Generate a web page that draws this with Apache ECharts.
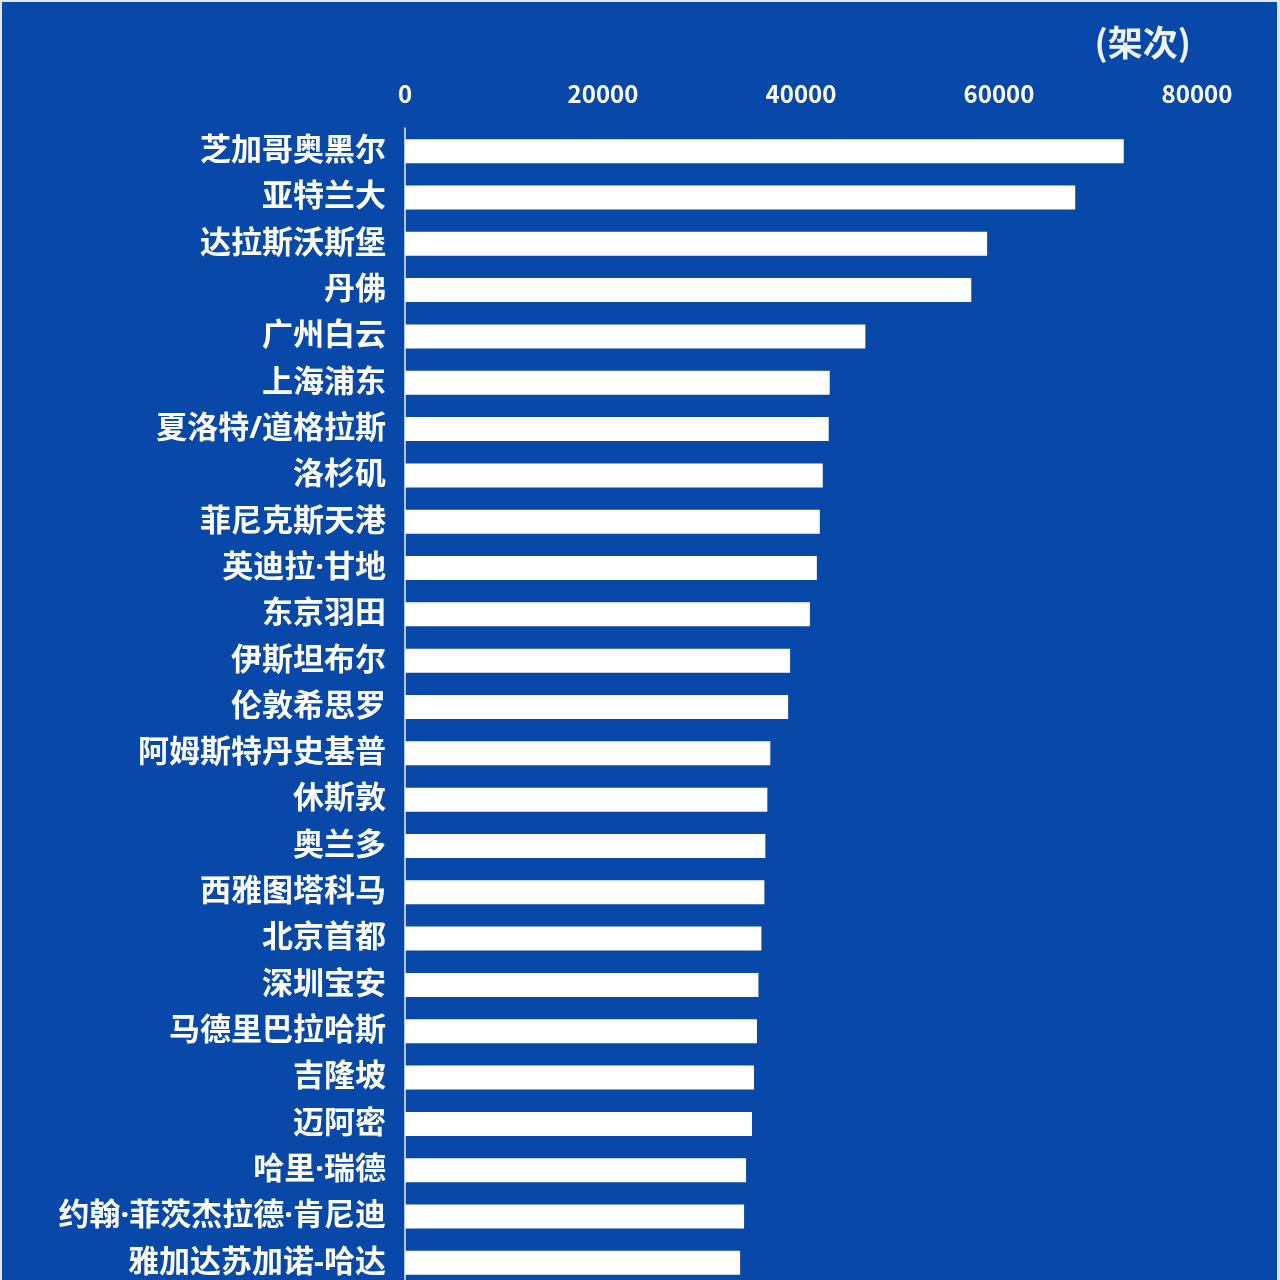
<!DOCTYPE html>
<html>
<head>
<meta charset="utf-8">
<title>机场起降架次</title>
<script src="https://cdn.jsdelivr.net/npm/echarts@6/dist/echarts.min.js"></script>
<style>
  html, body { margin: 0; padding: 0; overflow: hidden; width: 1280px; height: 1280px; }
  #chart { position: absolute; left: 0; top: 0; width: 1280px; height: 1300px; }
  #frame { position: absolute; left: 0; top: 0; width: 1280px; height: 1300px; box-sizing: border-box;
    border-top: 2px solid #dfe9f5; border-left: 2px solid #dfe9f5; border-right: 3px solid #dfe9f5;
    pointer-events: none; }
</style>
</head>
<body>
<div id="chart"></div>
<div id="frame"></div>
<script>
const airports = [
  '芝加哥奥黑尔', '亚特兰大', '达拉斯沃斯堡', '丹佛', '广州白云',
  '上海浦东', '夏洛特/道格拉斯', '洛杉矶', '菲尼克斯天港', '英迪拉·甘地',
  '东京羽田', '伊斯坦布尔', '伦敦希思罗', '阿姆斯特丹史基普', '休斯敦',
  '奥兰多', '西雅图塔科马', '北京首都', '深圳宝安', '马德里巴拉哈斯',
  '吉隆坡', '迈阿密', '哈里·瑞德', '约翰·菲茨杰拉德·肯尼迪', '雅加达苏加诺-哈达'
]
const flights = [
  72600, 67700, 58800, 57200, 46500,
  42900, 42800, 42200, 41900, 41600,
  40900, 38900, 38700, 36900, 36600,
  36400, 36300, 36000, 35700, 35550,
  35250, 35050, 34450, 34250, 33850
]
const unitLabel = '(架次)'

const font = '"Noto Sans CJK SC", "Noto Sans", sans-serif'
// Latin first so the middle dot and slash stay narrow
const labelFont = '"Noto Sans", "Noto Sans CJK SC", sans-serif'

const myChart = echarts.init(document.getElementById('chart'))
myChart.setOption({
  backgroundColor: '#0748a8',
  animation: false,
  title: {
    text: unitLabel,
    right: 84,
    top: 20,
    textStyle: { color: '#eef3fb', fontSize: 35, fontWeight: 'bold', fontFamily: font }
  },
  grid: { left: 405, right: 83, top: 128, bottom: 14, containLabel: false },
  xAxis: {
    type: 'value',
    position: 'top',
    min: 0,
    max: 80000,
    interval: 20000,
    axisLine: { show: false },
    axisTick: { show: false },
    splitLine: { show: false },
    axisLabel: {
      color: '#ffffff', fontSize: 24, fontWeight: 'bold', fontFamily: font, margin: 22,
      formatter: v => String(v)
    }
  },
  yAxis: {
    type: 'category',
    inverse: true,
    data: airports,
    axisLine: { show: true, lineStyle: { color: '#e8eef8', width: 1.5 } },
    axisTick: { show: false },
    axisLabel: {
      color: '#ffffff', fontSize: 31, fontWeight: 'bold', fontFamily: labelFont, margin: 19,
      padding: [4, 0, 0, 0]
    }
  },
  series: [{
    type: 'bar',
    data: flights,
    barWidth: 24,
    itemStyle: { color: '#ffffff' }
  }]
})
</script>
</body>
</html>
